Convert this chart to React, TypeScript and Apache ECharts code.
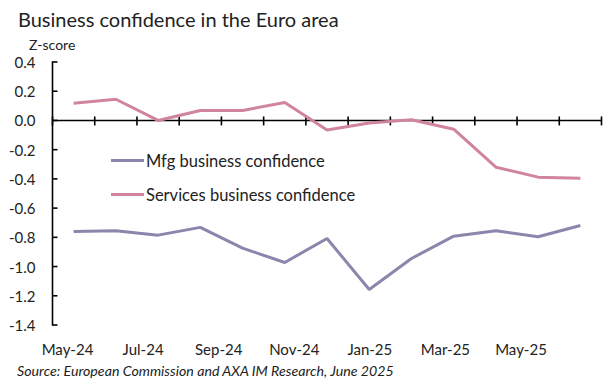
import React, { useEffect, useRef } from "react";
import * as echarts from "echarts";

const months = ["May-24", "Jun-24", "Jul-24", "Aug-24", "Sep-24", "Oct-24", "Nov-24", "Dec-24", "Jan-25", "Feb-25", "Mar-25", "Apr-25", "May-25"];
const axisLabels = ["May-24", "Jul-24", "Sep-24", "Nov-24", "Jan-25", "Mar-25", "May-25"];
const mfg = [-0.76, -0.755, -0.785, -0.732, -0.874, -0.972, -0.808, -1.157, -0.945, -0.792, -0.755, -0.796, -0.719];
const services = [0.117, 0.145, 0.0, 0.068, 0.068, 0.123, -0.066, -0.017, 0.005, -0.06, -0.32, -0.388, -0.395];
const yTicks = [-1.4, -1.2, -1.0, -0.8, -0.6, -0.4, -0.2, 0.0, 0.2, 0.4];

const FONT = "Lato";
const TXT = "#222222";
const AX = "#000000";

export default function App() {
  const ref = useRef<HTMLDivElement>(null);
  useEffect(() => {
    const chart = echarts.init(ref.current!, null, { renderer: "svg" });
    chart.setOption({
      animation: false,
      textStyle: { fontFamily: FONT },
      title: [
        { text: "Business confidence in the Euro area", left: 13, top: 4, textStyle: { fontFamily: FONT, fontSize: 20, fontWeight: "normal", color: TXT } },
        { text: "Z-score", left: 24, top: 32, textStyle: { fontFamily: FONT, fontSize: 14, fontWeight: "normal", color: TXT } },
        { text: "Source: European Commission and AXA IM Research, June 2025", left: 12, top: 358, textStyle: { fontFamily: FONT, fontSize: 14.2, fontStyle: "italic", fontWeight: "normal", color: TXT } },
      ],
      legend: {
        orient: "vertical",
        left: 106,
        top: 147,
        itemGap: 17,
        itemWidth: 33,
        itemHeight: 3,
        icon: "rect",
        textStyle: { fontFamily: FONT, fontSize: 16.5, color: TXT, padding: [0, 0, 0, -3] },
        data: ["Mfg business confidence", "Services business confidence"],
      },
      grid: [
        { left: 52.5, right: 13.5, top: 62, bottom: 54 },
        { left: 67.5, right: 94, top: 300, bottom: 46 },
      ],
      xAxis: [
        {
          type: "category", gridIndex: 0, data: months, position: "bottom", boundaryGap: true,
          axisLine: { show: false }, axisTick: { show: false },
          axisLabel: { show: false }, splitLine: { show: false },
        },
        {
          type: "category", gridIndex: 1, data: axisLabels, position: "bottom", boundaryGap: false,
          axisLine: { show: false }, axisTick: { show: false },
          axisLabel: { interval: 0, fontSize: 15, color: TXT },
        },
      ],
      yAxis: [
        {
          type: "value", gridIndex: 0, min: yTicks[0], max: yTicks[yTicks.length - 1], interval: 0.2,
          axisLine: { show: false }, axisTick: { show: false },
          axisLabel: { fontSize: 15, color: TXT, padding: [0, 9, 0, 0], formatter: (v: number) => v.toFixed(1) },
          splitLine: { show: false },
        },
        { type: "value", gridIndex: 1, show: false, min: 0, max: 1 },
      ],
      series: [
        {
          name: "Mfg business confidence", type: "line", xAxisIndex: 0, yAxisIndex: 0, data: mfg, z: 3,
          symbol: "none", lineStyle: { color: "#8a86ac", width: 3 }, itemStyle: { color: "#8a86ac" },
        },
        {
          name: "Services business confidence", type: "line", xAxisIndex: 0, yAxisIndex: 0, data: services, z: 3,
          symbol: "none", lineStyle: { color: "#d0849d", width: 3 }, itemStyle: { color: "#d0849d" },
        },
      ],
    });

    // Axis lines and ticks, placed through the chart's own scales
    const px = (i: number, v: number) => chart.convertToPixel({ gridIndex: 0 }, [i, v]) as number[];
    const c0 = px(0, 0);
    const c1 = px(1, 0);
    const bw = c1[0] - c0[0];
    const left = c0[0] - bw / 2;
    const right = px(months.length - 1, 0)[0] + bw / 2;
    const y0 = c0[1];
    const yTop = px(0, yTicks[yTicks.length - 1])[1];
    const yBot = px(0, yTicks[0])[1];
    const els: any[] = [];
    const lw = 1.6;
    els.push({ type: "rect", z: 1, silent: true, shape: { x: left - lw / 2, y: yTop - lw / 2, width: lw, height: yBot - yTop + lw }, style: { fill: AX } });
    yTicks.forEach((t) => {
      const y = px(0, t)[1];
      els.push({ type: "rect", z: 1, silent: true, shape: { x: left, y: y - lw / 2, width: 5, height: lw }, style: { fill: AX } });
    });
    els.push({ type: "rect", z: 1, silent: true, shape: { x: left, y: y0 - lw / 2, width: right - left, height: lw }, style: { fill: AX } });
    for (let i = 0; i <= months.length; i++) {
      const x = left + i * bw;
      els.push({ type: "rect", z: 1, silent: true, shape: { x: x - lw / 2, y: y0 - 4, width: lw, height: 9 }, style: { fill: AX } });
    }
    chart.setOption({ graphic: els });

    return () => chart.dispose();
  }, []);
  return <div ref={ref} style={{ position: "fixed", left: 0, top: 0, width: 615, height: 379, background: "#fff" }} />;
}
